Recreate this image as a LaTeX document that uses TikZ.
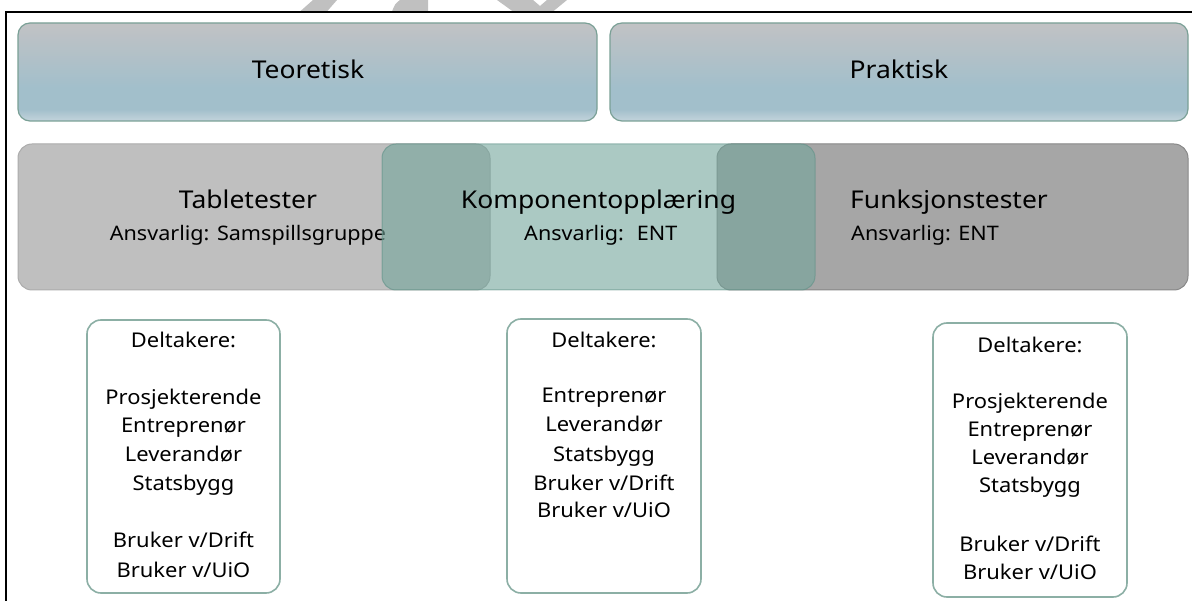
\documentclass[tikz,border=0pt]{standalone}
\usepackage{fontspec}
\setmainfont{Noto Sans}[FakeStretch=1.08]
\definecolor{wmgray}{RGB}{192,192,192}
\definecolor{topg}{RGB}{193,194,196}
\definecolor{botb}{RGB}{162,191,203}
\definecolor{botl}{RGB}{196,212,220}
\definecolor{topborder}{RGB}{122,160,150}
\definecolor{greyA}{RGB}{191,191,191}
\definecolor{greyAb}{RGB}{172,172,172}
\definecolor{greyC}{RGB}{166,166,166}
\definecolor{greyCb}{RGB}{135,135,135}
\definecolor{tealB}{RGB}{115,165,155}
\definecolor{tealBb}{RGB}{95,145,135}
\definecolor{partborder}{RGB}{140,175,165}
\pgfdeclareverticalshading{tbshade}{100bp}{color(0bp)=(botl); color(25bp)=(botl); color(31bp)=(botb); color(42bp)=(botb); color(75bp)=(topg); color(100bp)=(topg)}
\begin{document}
\begin{tikzpicture}[x=1pt,y=-1pt,
  titlefont/.style={font=\fontsize{24.5}{30}\selectfont},
  subfont/.style={font=\fontsize{20}{24}\selectfont},
  boxtxt/.style={font=\fontsize{20.3}{24}\selectfont, anchor=base, inner sep=0pt},
  topbox/.style={draw=topborder, line width=1.2pt, rounded corners=12pt, shading=tbshade},
  partbox/.style={draw=partborder, line width=1.6pt, rounded corners=14pt, fill=white},
  txt/.style={anchor=base, inner sep=0pt}]
\useasboundingbox (0,0) rectangle (1192,601);
\fill[white] (0,0) rectangle (1192,601);
% watermark fragments
\fill[wmgray] (300,11.5) -- (327,11.5) -- (337,0) -- (313,0) -- cycle;
\fill[wmgray] (392,11.5) -- (428,11.5) -- (428,0) -- (400,0) .. controls (395,4) .. (392,11.5) -- cycle;
\fill[wmgray] (497,0) -- (533,0) -- (540,6) -- (547,0) -- (567,0) -- (553,11.5) -- (513,11.5) -- cycle;
% frame
\draw[line width=2.2pt] (6,601) -- (6,12) -- (1192,12);
% top boxes
\path[topbox] (18,23) rectangle (597,121);
\node[titlefont, txt] (teo) at (308,79) {Teoretisk};
\path[topbox] (610,23) rectangle (1188,121);
\node[titlefont, txt] (prak) at (899,79) {Praktisk};
% second row
\path[draw=greyAb, fill=greyA, line width=1pt, rounded corners=14pt] (18,144) rectangle (490,290);
\path[draw=greyCb, fill=greyC, line width=1pt, rounded corners=14pt] (717,144) rectangle (1188,290);
\node[titlefont, txt] (tab) at (248,209) {Tabletester};
\node[subfont, txt] (tabans) at (248,241) {Ansvarlig: Samspillsgruppe};
\path[draw=tealBb, fill=tealB, fill opacity=0.6, draw opacity=0.6, line width=1pt, rounded corners=14pt] (382,144) rectangle (815,290);
\node[titlefont, txt] (komp) at (598.5,209) {Komponentopplæring};
\node[subfont, txt, anchor=base west] (kompans) at (524,241) {Ansvarlig:\hspace{13pt}ENT};
\node[titlefont, txt, anchor=base west] (funk) at (850,209) {Funksjonstester};
\node[subfont, txt, anchor=base west] (funkans) at (851,241) {Ansvarlig: ENT};
% participant boxes
\path[partbox] (87,320) rectangle (280,593);
\foreach \t/\y [count=\i] in {{Deltakere:}/348, {Prosjekterende}/405, {Entreprenør}/433, {Leverandør}/462, {Statsbygg}/490, {Bruker v/Drift}/547, {Bruker v/UiO}/577}
  \node[boxtxt] (pa\i) at (183.5,\y) {\t};
\path[partbox] (507,319) rectangle (701,593);
\foreach \t/\y [count=\i] in {{Deltakere:}/348, {Entreprenør}/403, {Leverandør}/432, {Statsbygg}/461, {Bruker v/Drift}/490, {Bruker v/UiO}/518}
  \node[boxtxt] (pb\i) at (604,\y) {\t};
\path[partbox] (933,323) rectangle (1127,597);
\foreach \t/\y [count=\i] in {{Deltakere:}/353, {Prosjekterende}/409, {Entreprenør}/437, {Leverandør}/465, {Statsbygg}/493, {Bruker v/Drift}/551, {Bruker v/UiO}/579}
  \node[boxtxt] (pc\i) at (1030,\y) {\t};
\end{tikzpicture}
\end{document}
